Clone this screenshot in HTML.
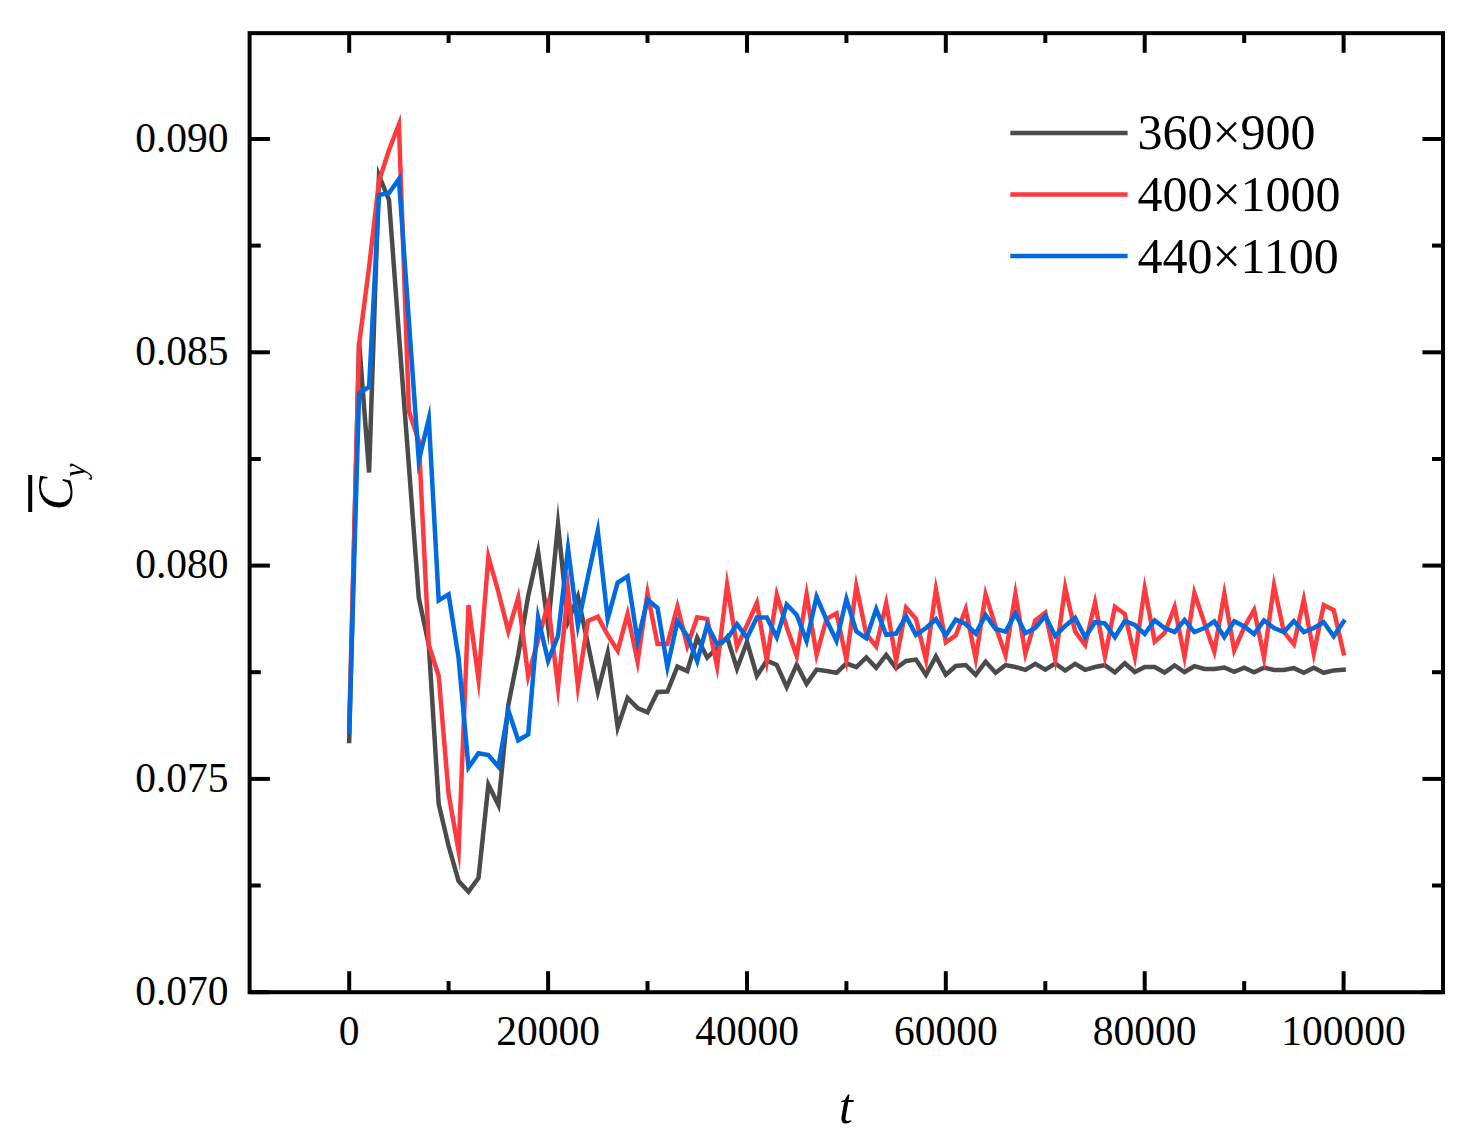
<!DOCTYPE html>
<html><head><meta charset="utf-8"><style>
html,body{margin:0;padding:0;background:#fff;overflow:hidden;width:1473px;height:1141px;}
svg{display:block;}
text{font-family:"Liberation Serif",serif;fill:#000;}
</style></head><body>
<svg width="1473" height="1141" viewBox="0 0 1473 1141">
<rect x="0" y="0" width="1473" height="1141" fill="#fff"/>
<g fill="none" stroke-linejoin="miter" stroke-miterlimit="11" stroke-linecap="square" stroke-width="4.5">
<polyline stroke="#4b4b4b" points="349.2,741.0 359.1,342.0 369.1,472.5 379.0,175.6 389.0,200.0 398.9,334.0 408.9,466.0 418.8,598.0 428.8,645.0 438.7,804.0 448.6,846.0 458.6,881.0 468.5,891.7 478.5,878.0 488.4,784.7 498.4,804.9 508.3,705.0 518.2,655.0 528.2,596.0 538.1,551.8 548.1,626.1 558.0,524.4 568.0,621.5 577.9,596.6 587.9,644.0 597.8,691.8 607.7,653.0 617.7,727.4 627.6,698.0 637.6,708.0 647.5,712.3 657.5,692.0 667.4,691.5 677.4,666.6 687.3,671.1 697.2,637.8 707.2,657.5 717.1,648.0 727.1,637.2 737.0,668.7 747.0,641.9 756.9,675.9 766.8,660.6 776.8,665.0 786.7,687.1 796.7,664.6 806.6,683.9 816.6,669.6 826.5,671.0 836.5,672.8 846.4,663.4 856.3,667.2 866.3,657.5 876.2,667.8 886.2,654.9 896.1,668.1 906.1,661.0 916.0,659.6 926.0,674.8 935.9,656.5 945.8,674.7 955.8,666.0 965.7,665.0 975.7,674.8 985.6,661.7 995.6,672.7 1005.5,665.1 1015.4,667.0 1025.4,669.8 1035.3,663.8 1045.3,669.6 1055.2,663.5 1065.2,670.5 1075.1,663.9 1085.1,669.8 1095.0,667.0 1104.9,665.2 1114.9,672.3 1124.8,663.2 1134.8,672.0 1144.7,667.0 1154.7,667.0 1164.6,672.5 1174.6,665.4 1184.5,672.0 1194.4,666.2 1204.4,669.0 1214.3,669.0 1224.3,667.5 1234.2,671.8 1244.2,667.7 1254.1,672.2 1264.0,667.6 1274.0,670.0 1283.9,670.0 1293.9,668.1 1303.8,672.7 1313.8,667.7 1323.7,672.8 1333.7,670.4 1343.6,669.7"/>
<polyline stroke="#ff3a3e" points="349.2,726.0 359.1,344.0 369.1,267.0 379.0,181.0 389.0,150.0 398.9,124.5 408.9,411.0 418.8,441.0 428.8,645.0 438.7,676.0 448.6,794.0 458.6,850.8 468.5,605.0 478.5,679.2 488.4,556.8 498.4,592.0 508.3,631.3 518.2,597.6 528.2,676.2 538.1,640.0 548.1,603.9 558.0,687.2 568.0,589.8 577.9,686.2 587.9,621.0 597.8,616.7 607.7,635.0 617.7,650.7 627.6,613.9 637.6,661.9 647.5,593.2 657.5,644.0 667.4,644.0 677.4,606.7 687.3,645.9 697.2,617.3 707.2,618.9 717.1,666.4 727.1,584.8 737.0,646.9 747.0,625.0 756.9,603.0 766.8,660.5 776.8,594.9 786.7,627.0 796.7,656.0 806.6,594.4 816.6,654.8 826.5,619.0 836.5,613.3 846.4,659.6 856.3,586.2 866.3,634.0 876.2,646.5 886.2,603.3 896.1,660.6 906.1,607.7 916.0,618.9 926.0,659.8 935.9,589.5 945.8,642.4 955.8,635.4 965.7,609.1 975.7,658.7 985.6,594.4 995.6,626.6 1005.5,655.1 1015.4,593.9 1025.4,653.8 1035.3,620.3 1045.3,612.7 1055.2,658.9 1065.2,587.5 1075.1,631.6 1085.1,645.0 1095.0,602.8 1104.9,656.5 1114.9,606.9 1124.8,614.0 1134.8,656.9 1144.7,588.7 1154.7,641.7 1164.6,633.0 1174.6,607.0 1184.5,656.9 1194.4,593.1 1204.4,623.0 1214.3,651.6 1224.3,593.8 1234.2,650.2 1244.2,627.3 1254.1,610.0 1264.0,657.5 1274.0,585.8 1283.9,632.0 1293.9,644.2 1303.8,599.7 1313.8,653.5 1323.7,605.1 1333.7,610.0 1343.6,653.2"/>
<polyline stroke="#006ae0" points="349.2,732.0 359.1,393.0 369.1,387.0 379.0,195.0 389.0,193.0 398.9,179.2 408.9,321.0 418.8,460.5 428.8,418.8 438.7,600.4 448.6,594.4 458.6,658.0 468.5,767.5 478.5,753.3 488.4,755.0 498.4,766.7 508.3,710.3 518.2,740.3 528.2,734.4 538.1,617.7 548.1,660.8 558.0,636.0 568.0,548.7 577.9,625.3 587.9,577.0 597.8,531.0 607.7,618.9 617.7,582.5 627.6,576.5 637.6,641.2 647.5,599.8 657.5,608.0 667.4,667.0 677.4,621.4 687.3,636.0 697.2,661.1 707.2,624.9 717.1,644.2 727.1,639.0 737.0,624.1 747.0,637.8 756.9,617.5 766.8,617.5 776.8,637.2 786.7,604.5 796.7,615.0 806.6,640.9 816.6,596.7 826.5,620.0 836.5,640.9 846.4,599.0 856.3,631.4 866.3,638.3 876.2,609.0 886.2,634.8 896.1,633.6 906.1,616.4 916.0,635.0 926.0,628.0 935.9,619.3 945.8,635.5 955.8,619.6 965.7,624.0 975.7,633.5 985.6,615.1 995.6,629.0 1005.5,631.6 1015.4,613.6 1025.4,633.2 1035.3,628.0 1045.3,615.9 1055.2,635.9 1065.2,626.0 1075.1,617.7 1085.1,637.3 1095.0,622.2 1104.9,623.4 1114.9,637.2 1124.8,621.0 1134.8,625.0 1144.7,633.9 1154.7,620.4 1164.6,628.0 1174.6,632.1 1184.5,620.0 1194.4,632.1 1204.4,628.0 1214.3,621.4 1224.3,637.0 1234.2,621.2 1244.2,626.4 1254.1,634.0 1264.0,620.4 1274.0,628.0 1283.9,632.0 1293.9,621.1 1303.8,632.0 1313.8,628.0 1323.7,622.3 1333.7,636.3 1343.6,621.6"/>
</g>
<g stroke="#000" stroke-width="4" fill="none">
<line x1="349.2" y1="992.2" x2="349.2" y2="971.2"/>
<line x1="349.2" y1="33.15" x2="349.2" y2="52.8"/>
<line x1="448.6" y1="992.2" x2="448.6" y2="981.1"/>
<line x1="448.6" y1="33.15" x2="448.6" y2="43.0"/>
<line x1="548.1" y1="992.2" x2="548.1" y2="971.2"/>
<line x1="548.1" y1="33.15" x2="548.1" y2="52.8"/>
<line x1="647.5" y1="992.2" x2="647.5" y2="981.1"/>
<line x1="647.5" y1="33.15" x2="647.5" y2="43.0"/>
<line x1="747.0" y1="992.2" x2="747.0" y2="971.2"/>
<line x1="747.0" y1="33.15" x2="747.0" y2="52.8"/>
<line x1="846.4" y1="992.2" x2="846.4" y2="981.1"/>
<line x1="846.4" y1="33.15" x2="846.4" y2="43.0"/>
<line x1="945.8" y1="992.2" x2="945.8" y2="971.2"/>
<line x1="945.8" y1="33.15" x2="945.8" y2="52.8"/>
<line x1="1045.3" y1="992.2" x2="1045.3" y2="981.1"/>
<line x1="1045.3" y1="33.15" x2="1045.3" y2="43.0"/>
<line x1="1144.7" y1="992.2" x2="1144.7" y2="971.2"/>
<line x1="1144.7" y1="33.15" x2="1144.7" y2="52.8"/>
<line x1="1244.2" y1="992.2" x2="1244.2" y2="981.1"/>
<line x1="1244.2" y1="33.15" x2="1244.2" y2="43.0"/>
<line x1="1343.6" y1="992.2" x2="1343.6" y2="971.2"/>
<line x1="1343.6" y1="33.15" x2="1343.6" y2="52.8"/>
<line x1="249.6" y1="992.2" x2="269.9" y2="992.2"/>
<line x1="1443.0" y1="992.2" x2="1422.4" y2="992.2"/>
<line x1="249.6" y1="885.5" x2="260.8" y2="885.5"/>
<line x1="1443.0" y1="885.5" x2="1432.0" y2="885.5"/>
<line x1="249.6" y1="778.9" x2="269.9" y2="778.9"/>
<line x1="1443.0" y1="778.9" x2="1422.4" y2="778.9"/>
<line x1="249.6" y1="672.2" x2="260.8" y2="672.2"/>
<line x1="1443.0" y1="672.2" x2="1432.0" y2="672.2"/>
<line x1="249.6" y1="565.6" x2="269.9" y2="565.6"/>
<line x1="1443.0" y1="565.6" x2="1422.4" y2="565.6"/>
<line x1="249.6" y1="459.0" x2="260.8" y2="459.0"/>
<line x1="1443.0" y1="459.0" x2="1432.0" y2="459.0"/>
<line x1="249.6" y1="352.3" x2="269.9" y2="352.3"/>
<line x1="1443.0" y1="352.3" x2="1422.4" y2="352.3"/>
<line x1="249.6" y1="245.6" x2="260.8" y2="245.6"/>
<line x1="1443.0" y1="245.6" x2="1432.0" y2="245.6"/>
<line x1="249.6" y1="139.0" x2="269.9" y2="139.0"/>
<line x1="1443.0" y1="139.0" x2="1422.4" y2="139.0"/>
<rect x="249.6" y="33.15" width="1193.4" height="959.0500000000001" stroke-linejoin="miter"/>
</g>
<g font-size="41.5">
<text x="349.2" y="1044.8" text-anchor="middle">0</text>
<text x="548.1" y="1044.8" text-anchor="middle">20000</text>
<text x="747.0" y="1044.8" text-anchor="middle">40000</text>
<text x="945.8" y="1044.8" text-anchor="middle">60000</text>
<text x="1144.7" y="1044.8" text-anchor="middle">80000</text>
<text x="1343.6" y="1044.8" text-anchor="middle">100000</text>
<text x="228.5" y="1004.8" text-anchor="end">0.070</text>
<text x="228.5" y="791.5" text-anchor="end">0.075</text>
<text x="228.5" y="578.2" text-anchor="end">0.080</text>
<text x="228.5" y="364.9" text-anchor="end">0.085</text>
<text x="228.5" y="151.6" text-anchor="end">0.090</text>
</g>
<g stroke-width="4.5" fill="none">
<line x1="1010.3" y1="132.9" x2="1127.6" y2="132.9" stroke="#4b4b4b"/>
<line x1="1010.3" y1="194.5" x2="1127.6" y2="194.5" stroke="#ff3a3e"/>
<line x1="1010.3" y1="255.9" x2="1127.6" y2="255.9" stroke="#006ae0"/>
</g>
<g font-size="50">
<text x="1137.4" y="149.4">360×900</text>
<text x="1137.4" y="211.0">400×1000</text>
<text x="1137.4" y="272.6">440×1100</text>
</g>
<text x="839" y="1123" font-size="50" font-style="italic">t</text>
<rect x="28.2" y="475" width="4" height="37" fill="#000"/>
<text transform="translate(72,510.3) rotate(-90)" font-size="51" font-style="italic">C</text>
<text transform="translate(85.4,477.2) rotate(-90)" font-size="31" font-style="italic">y</text>
</svg>
</body></html>
